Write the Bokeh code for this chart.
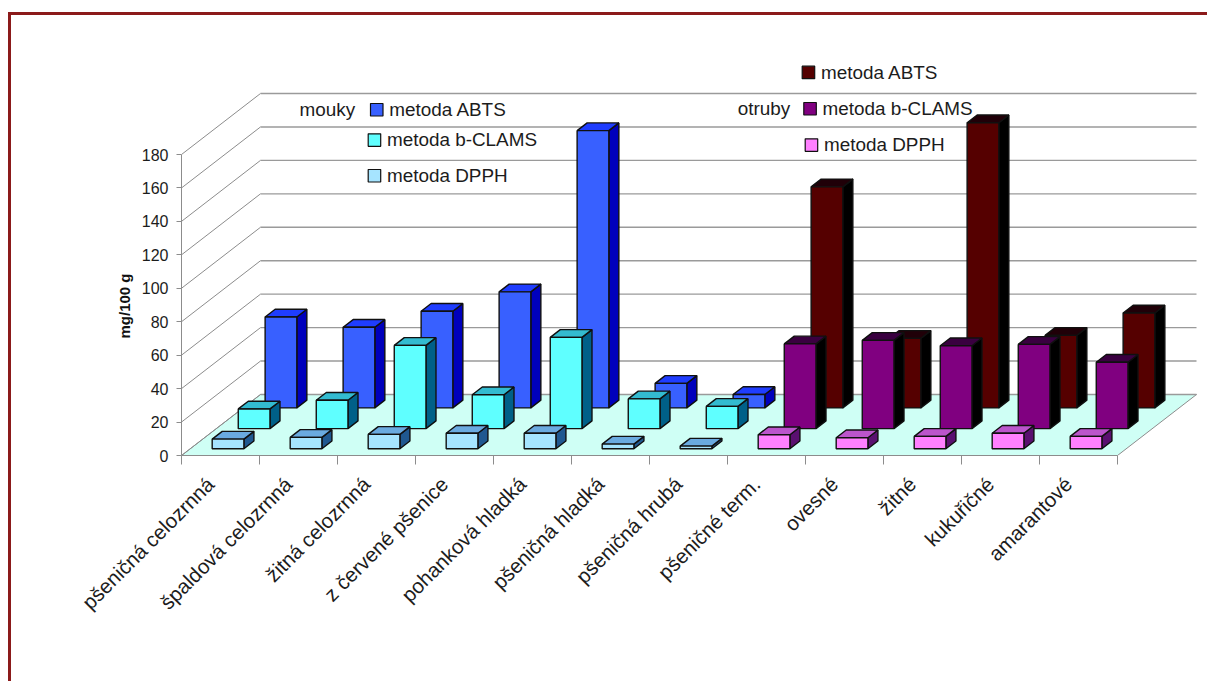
from math import pi

from bokeh.core.properties import value
from bokeh.embed import file_html
from bokeh.models import FixedTicker, InlineStyleSheet, LinearAxis, Range1d, Title
from bokeh.plotting import figure
from bokeh.resources import INLINE

categories = ["pšeničná celozrnná", "špaldová celozrnná", "žitná celozrnná",
              "z červené pšenice", "pohanková hladká", "pšeničná hladká",
              "pšeničná hrubá", "pšeničné term.", "ovesné", "žitné",
              "kukuřičné", "amarantové"]

# Flour samples occupy the first seven categories, bran samples the last five.
abts_flour = [54.4, 48.2, 57.8, 69.4, 165.8, 14.7, 8.0]
clams_flour = [11.8, 17.0, 49.8, 20.3, 54.6, 17.8, 13.3]
dpph_flour = [5.8, 6.8, 8.6, 9.3, 9.3, 2.8, 1.6]
abts_bran = [132.2, 41.6, 170.5, 43.4, 56.8]
clams_bran = [50.7, 52.8, 49.6, 50.4, 39.7]
dpph_bran = [8.4, 6.6, 7.4, 9.3, 7.4]
value_ticks = [0, 20, 40, 60, 80, 100, 120, 140, 160, 180]
y_axis_title = "mg/100 g"

# Page geometry: pixels per category and per value unit, and the plot origin.
W, H = 1207, 681
LEFT, BASE = 181, 455
PX_CAT, PX_VAL = 78.0, 301 / 180

# Oblique projection: depth 1 is the back wall of the chart.
DEPTH_X = 79 / PX_CAT
DEPTH_Y = 61 / PX_VAL
BAR_W = 31.7 / PX_CAT
BAR_D = 0.127
BAR_X0 = 22 / PX_CAT
ROW_FRONT, ROW_MID, ROW_BACK = 0.11, 0.44, 0.78

FONT = "Liberation Sans"
INK = "#1c1c1c"
GRID = "#8c8c8c"
EDGE = "#101010"

# Dark red rule along the top and left of the page, open past the page edge
frame_css = InlineStyleSheet(css="""
:host::after {
  content: "";
  position: absolute;
  left: 8px; top: 12px; right: 0; bottom: 0;
  border-left: 3px solid #8B1A1A;
  border-top: 3px solid #8B1A1A;
  pointer-events: none;
}
""")


def sx(px):
    return (px - LEFT) / PX_CAT


def sy(py):
    return (BASE - py) / PX_VAL


p = figure(width=W, height=H, output_backend="svg", toolbar_location=None,
           x_axis_type=None, y_axis_type=None,
           x_range=Range1d(0, sx(W)), y_range=Range1d(0, sy(0)),
           min_border_left=LEFT, min_border_right=0, min_border_top=0,
           min_border_bottom=H - BASE)
p.outline_line_color = None
p.grid.visible = False
p.background_fill_color = "white"
p.border_fill_color = "white"
p.stylesheets = [frame_css]

n = len(categories)

# Chart floor
p.patch([0, n, n + DEPTH_X, DEPTH_X], [0, 0, DEPTH_Y, DEPTH_Y],
        fill_color="#CFFFF5", line_color=GRID, line_width=1)

# Gridlines on the left wall and the back wall
side_x0 = [0] * len(value_ticks)
side_x1 = [DEPTH_X] * len(value_ticks)
side_y1 = [v + DEPTH_Y for v in value_ticks]
p.segment(side_x0, value_ticks, side_x1, side_y1, line_color=GRID, line_width=1)
p.segment(side_x1, side_y1, [n + DEPTH_X] * len(value_ticks), side_y1,
          line_color="#9a9a9a", line_width=1.4)


def draw_bars(first, values, depth, front, top, side):
    """Draw one row of oblique 3D columns, one polygon set per face."""
    fx, fy, tx, ty, rx, ry = [], [], [], [], [], []
    for i, v in enumerate(values):
        x0 = first + i + BAR_X0 + depth * DEPTH_X
        x1 = x0 + BAR_W
        y0 = depth * DEPTH_Y
        y1 = y0 + v
        ox = BAR_D * DEPTH_X
        oy = BAR_D * DEPTH_Y
        fx.append([x0, x1, x1, x0])
        fy.append([y0, y0, y1, y1])
        tx.append([x0, x1, x1 + ox, x0 + ox])
        ty.append([y1, y1, y1 + oy, y1 + oy])
        rx.append([x1, x1 + ox, x1 + ox, x1])
        ry.append([y0, y0 + oy, y1 + oy, y1])
    for xs, ys, color in ((rx, ry, side), (tx, ty, top), (fx, fy, front)):
        p.patches(xs, ys, fill_color=color, line_color=EDGE, line_width=1.4)


draw_bars(0, abts_flour, ROW_BACK, "#3860FF", "#1F3DFF", "#0000BC")
draw_bars(7, abts_bran, ROW_BACK, "#550000", "#200008", "#000000")
draw_bars(0, clams_flour, ROW_MID, "#5FFFFF", "#33BBD0", "#006088")
draw_bars(7, clams_bran, ROW_MID, "#800080", "#3A0040", "#000000")
draw_bars(0, dpph_flour, ROW_FRONT, "#A6E4FF", "#6AAAE0", "#205890")
draw_bars(7, dpph_bran, ROW_FRONT, "#FF80FF", "#BB55CC", "#5A1070")

# Hand-placed legend entries for the two sample groups
legend = [
    ("#3860FF", "metoda ABTS", 370, 103),
    ("#5FFFFF", "metoda b-CLAMS", 367.7, 133.3),
    ("#A6E4FF", "metoda DPPH", 367.7, 169),
    ("#550000", "metoda ABTS", 801.7, 65.7),
    ("#800080", "metoda b-CLAMS", 803.3, 102),
    ("#FF80FF", "metoda DPPH", 804.7, 138.3),
]
for color, label, px, py in legend:
    p.quad(left=sx(px), right=sx(px + 12.5), top=sy(py), bottom=sy(py + 12.5),
           fill_color=color, line_color=EDGE, line_width=1.2)
    p.text([sx(px + 18.7)], [sy(py + 6)], text=[label], text_color=INK,
           text_font=value(FONT), text_font_size="18.9px", text_baseline="middle")
for label, px, py in (("mouky", 299, 109.3), ("otruby", 737.3, 108.3)):
    p.text([sx(px)], [sy(py)], text=[label], text_color=INK,
           text_font=value(FONT), text_font_size="18.9px", text_baseline="middle")

# Value axis
y_axis = LinearAxis(ticker=FixedTicker(ticks=value_ticks), bounds=(0, 180))
y_axis.axis_line_color = GRID
y_axis.major_tick_line_color = GRID
y_axis.major_tick_out = 5
y_axis.major_tick_in = 0
y_axis.minor_tick_out = 0
y_axis.minor_tick_in = 0
y_axis.major_label_text_font = FONT
y_axis.major_label_text_font_size = "16px"
y_axis.major_label_text_color = INK
y_axis.major_label_standoff = 8
p.add_layout(y_axis, "left")

# Category axis: tick marks at the boundaries, labels just left of the centres
label_ticks = [i + 0.37 for i in range(n)]
x_axis = LinearAxis(ticker=FixedTicker(ticks=label_ticks, minor_ticks=list(range(n + 1))),
                    bounds=(0, n))
x_axis.major_label_overrides = dict(zip(label_ticks, categories))
x_axis.axis_line_color = GRID
x_axis.major_tick_line_color = None
x_axis.major_tick_out = 0
x_axis.major_tick_in = 0
x_axis.minor_tick_line_color = GRID
x_axis.minor_tick_out = 9
x_axis.minor_tick_in = 0
x_axis.major_label_orientation = pi / 4
x_axis.major_label_standoff = 16
x_axis.major_label_text_font = FONT
x_axis.major_label_text_font_size = "20.5px"
x_axis.major_label_text_color = INK
p.add_layout(x_axis, "below")

# Rotated title of the value axis, placed along the axis from the frame bottom
p.add_layout(Title(text=y_axis_title, align="left", offset=117, standoff=12,
                   text_font=FONT, text_font_size="15px", text_font_style="bold",
                   text_color="#111111"), "left")

open("out.html", "w").write(file_html(p, INLINE))
